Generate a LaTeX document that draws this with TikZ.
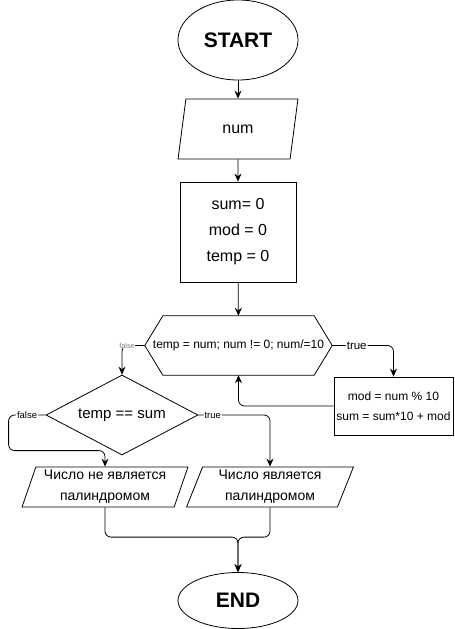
\documentclass[tikz,border=0pt]{standalone}
\usepackage{fontspec}
\setmainfont{Liberation Sans}
\usetikzlibrary{arrows.meta, shapes.geometric}
\tikzset{
  term/.style={draw, ellipse, line width=0.8pt, inner sep=0pt, minimum width=120pt, font=\fontsize{21}{25}\selectfont\bfseries},
  io/.style={draw, trapezium, trapezium stretches=true, line width=0.8pt, inner sep=0pt, align=center},
  proc/.style={draw, rectangle, line width=0.8pt, inner sep=0pt, align=center},
  cond/.style={draw, diamond, aspect=1.9, line width=0.8pt, inner sep=0pt, minimum width=152pt, minimum height=80pt, font=\fontsize{15}{18}\selectfont},
  loophex/.style={rectangle, inner sep=0pt, minimum width=187pt, minimum height=59pt, font=\fontsize{12}{14}\selectfont},
  conn/.style={line width=0.8pt, rounded corners=6pt, -{Stealth[length=8pt,width=7pt]}},
  lbl/.style={fill=white, inner sep=1pt, font=\fontsize{9.5}{11}\selectfont},
}

\begin{document}
\begin{tikzpicture}[x=1pt, y=-1pt]
  \useasboundingbox (0,0) rectangle (455,629);

  % Start and input
  \node[term, minimum height=80pt] (start) at (238,40) {START};
  \node[io, trapezium left angle=75, trapezium right angle=105, minimum width=120pt, minimum height=60pt, font=\fontsize{16}{19}\selectfont] (num) at (238,129) {num};
  \node[proc, minimum width=116pt, minimum height=100pt, font=\fontsize{16}{26}\selectfont] (init) at (238,232) {sum= 0\\mod = 0\\temp = 0};

  % Loop
  \node[loophex] (loop) at (238.5,345.5) {temp = num; num != 0; num/=10};
  \draw[line width=0.8pt, line join=round] (loop.west) -- ([xshift=18pt]loop.north west) -- ([xshift=-18pt]loop.north east)
    -- (loop.east) -- ([xshift=-18pt]loop.south east) -- ([xshift=18pt]loop.south west) -- cycle;
  \node[proc, minimum width=119pt, minimum height=58pt, font=\fontsize{12}{20}\selectfont] (body) at (393.5,406) {mod = num \% 10\\sum = sum*10 + mod};

  % Check and output
  \node[cond] (check) at (122,415) {temp == sum};
  \node[io, trapezium left angle=70, trapezium right angle=110, minimum width=166pt, minimum height=40pt, font=\fontsize{14}{21}\selectfont] (no) at (105,487) {Число не является\\палиндромом};
  \node[io, trapezium left angle=70, trapezium right angle=110, minimum width=167pt, minimum height=40pt, font=\fontsize{14}{21}\selectfont] (yes) at (270,487) {Число является\\палиндромом};
  \node[term, minimum height=56pt] (stop) at (238,600.5) {END};

  % Connectors
  \draw[conn] (start) -- (num);
  \draw[conn] (num) -- (init);
  \draw[conn] (init) -- (loop);
  \draw[conn] (loop.east) -| node[lbl, pos=0.2, font=\fontsize{11.5}{13}\selectfont] {true} (body.north);
  \draw[conn] (body.west) -| (loop.south);
  \draw[conn] (loop.west) -| node[lbl, pos=0.39, text=gray, font=\fontsize{7.3}{9}\selectfont, inner sep=0.5pt] {false} (check.north);
  \draw[conn] (check.west) -- node[lbl] {false} ++(-37,0) |- ([yshift=16pt]no.north) -- (no.north);
  \draw[conn] (check.east) -| node[lbl, pos=0.1] {true} (yes.north);
  \draw[conn] (no.south) |- ([yshift=35pt]stop.north) -- (stop.north);
  \draw[conn] (yes.south) |- ([yshift=35pt]stop.north) -- (stop.north);
\end{tikzpicture}
\end{document}
